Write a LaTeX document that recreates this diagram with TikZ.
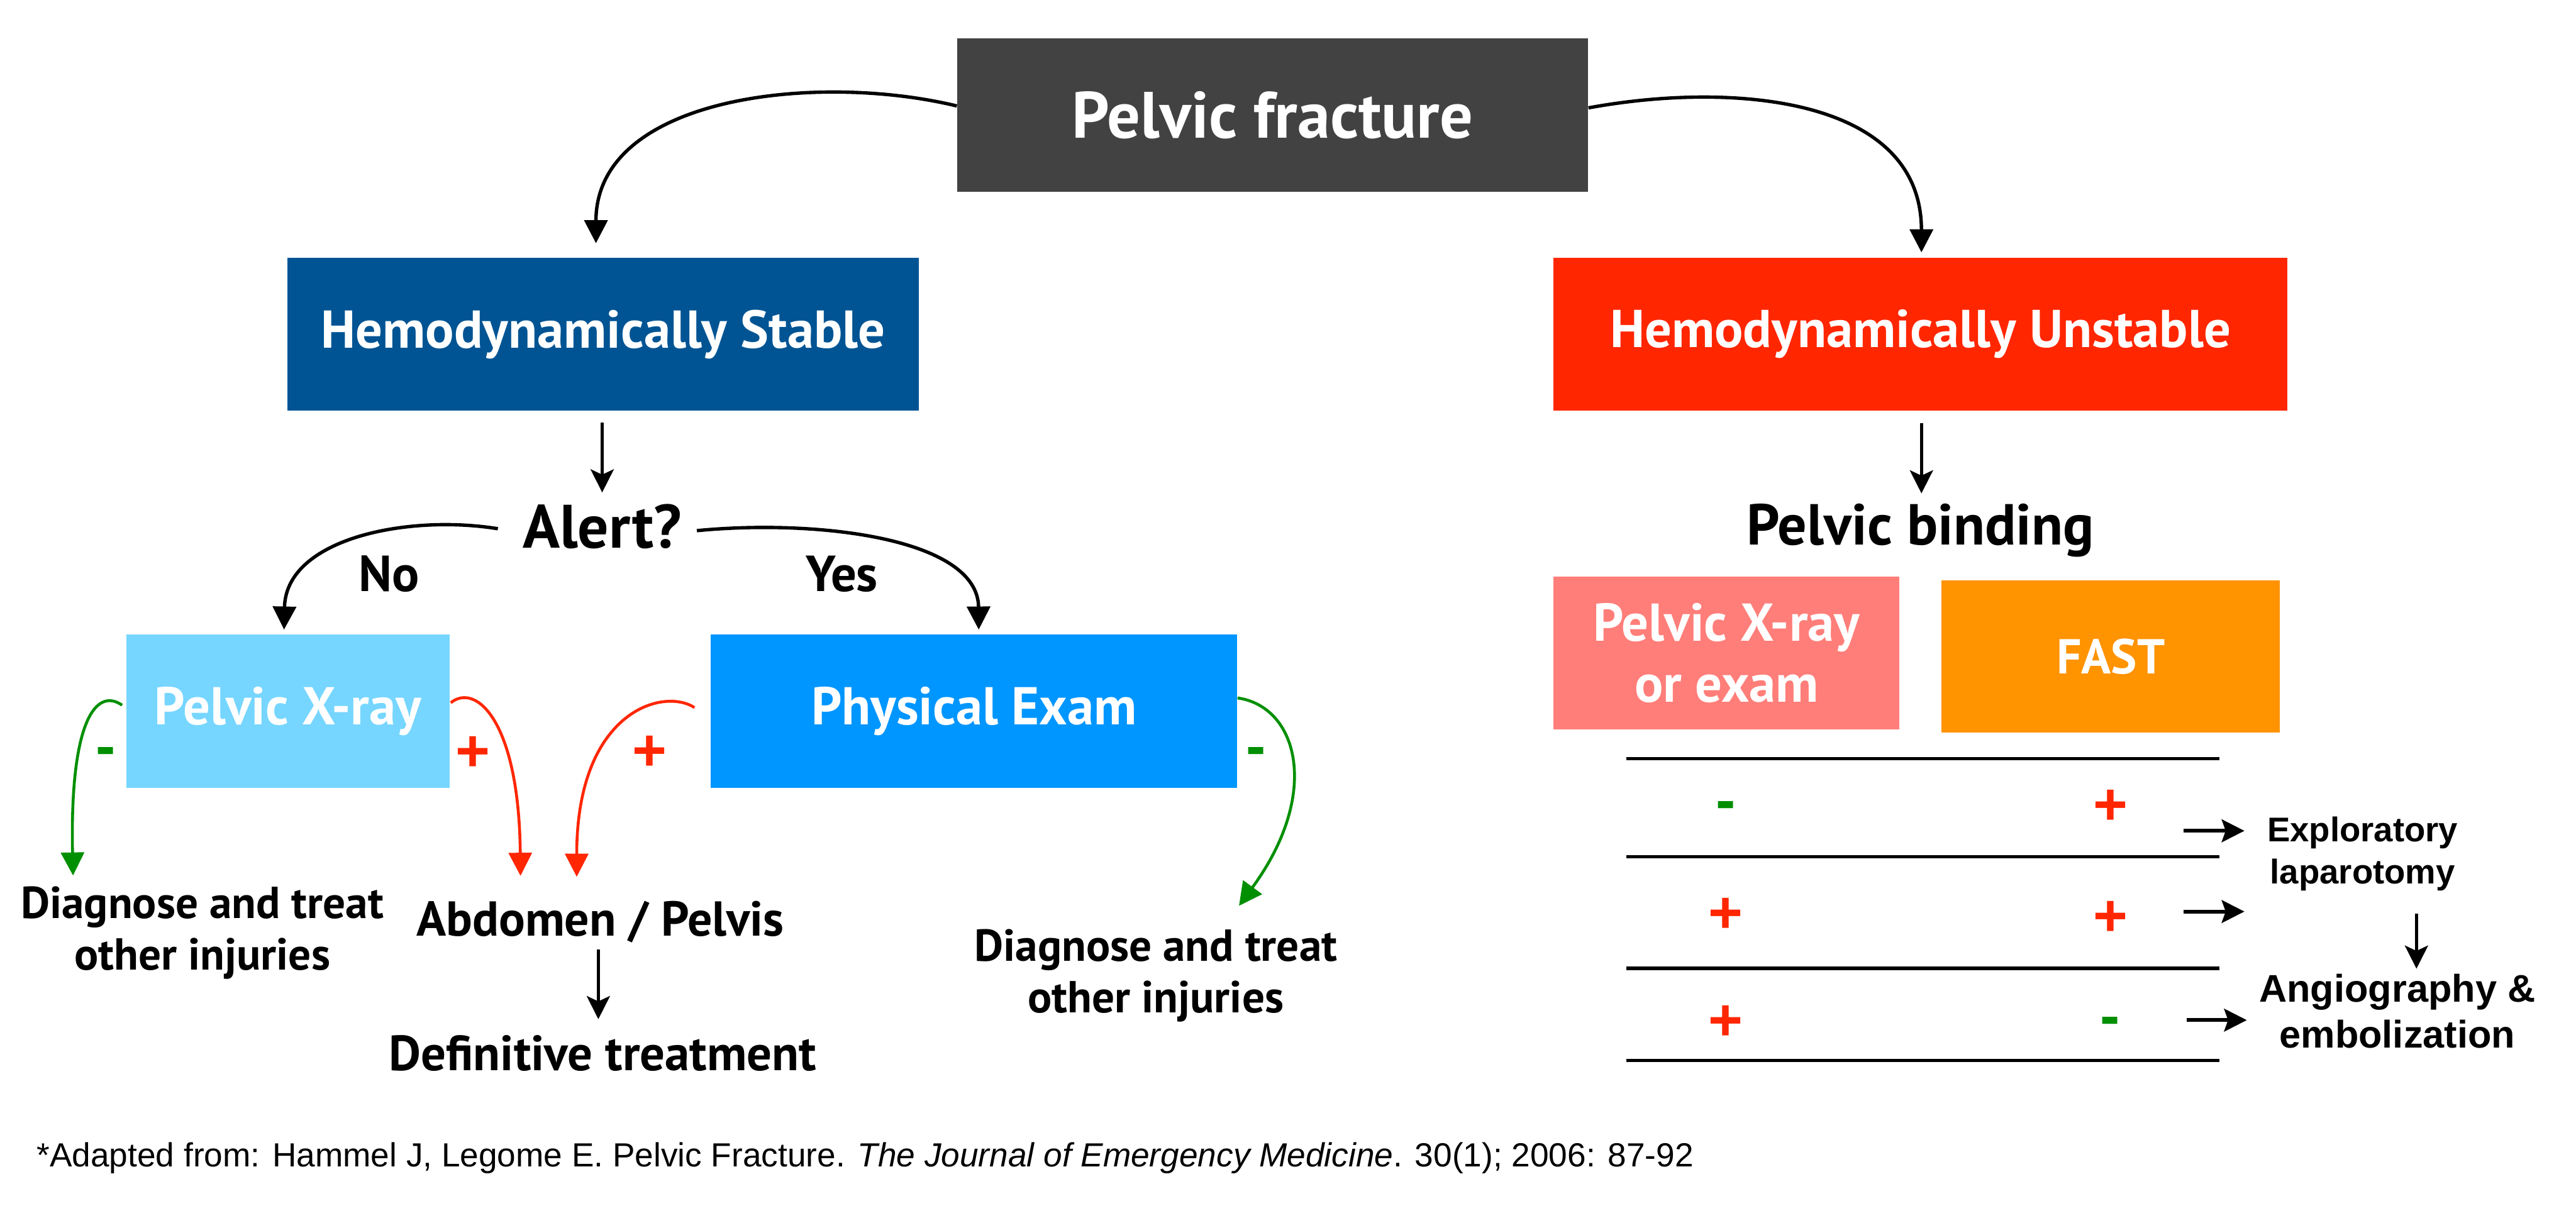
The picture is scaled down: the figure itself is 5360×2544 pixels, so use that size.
\documentclass[tikz,border=0pt]{standalone}
\usepackage{fontspec}
\setmainfont{PT Sans}
\newfontfamily\arialf{Liberation Sans}
\usetikzlibrary{arrows.meta,calc}
\definecolor{tungsten}{HTML}{424242}
\definecolor{ocean}{HTML}{005493}
\definecolor{maraschino}{HTML}{FF2600}
\definecolor{sky}{HTML}{76D6FF}
\definecolor{aqua}{HTML}{0096FF}
\definecolor{salmon}{HTML}{FF7E79}
\definecolor{tangerine}{HTML}{FF9300}
\definecolor{clover}{HTML}{008F00}
\newcommand\fsz[2]{\fontsize{#1pt}{#2pt}\selectfont}
\begin{document}
\begin{tikzpicture}[x=0.01cm, y=-0.01cm,
  box/.style={rectangle, inner sep=0pt, text=white, align=center},
  lbl/.style={inner sep=0pt, align=center},
  curvearrow/.style={line width=2pt, -{Triangle[length=4.8mm,width=4.8mm]}},
  gcurve/.style={line width=1.7pt, draw=clover, -{Triangle[length=4.8mm,width=4.8mm]}, clover},
  rcurve/.style={line width=1.7pt, draw=maraschino, -{Triangle[length=4.8mm,width=4.8mm]}, maraschino},
  downarrow/.style={line width=2pt, -{Stealth[length=4.8mm,width=4.8mm,inset=1.1mm]}},
  tablearrow/.style={line width=2.3pt, -{Stealth[length=4.7mm,width=4.7mm,inset=0.8mm]}},
  tblrule/.style={line width=2pt},
  pm/.style={inner sep=0pt, anchor=base, font=\arialf\bfseries\fsz{35}{40}},
]
\useasboundingbox (0,0) rectangle (5360,2544);
\fill[white] (0,0) rectangle (5360,2544);

% boxes
\node[box, fill=tungsten, minimum width=13.12cm, minimum height=3.19cm, font=\bfseries\fsz{38.8}{46}] (pf) at (2648,239.5) {Pelvic fracture};
\node[box, fill=ocean, minimum width=13.12cm, minimum height=3.19cm, font=\bfseries\fsz{31.5}{37}] (stable) at (1255,695.5) {Hemodynamically Stable};
\node[box, fill=maraschino, minimum width=15.26cm, minimum height=3.19cm, font=\bfseries\fsz{31.5}{37}] (unstable) at (3996,695.5) {Hemodynamically Unstable};
\node[box, fill=sky, minimum width=6.72cm, minimum height=3.19cm, font=\bfseries\fsz{31.5}{37}] (xray) at (599,1479.5) {Pelvic X-ray};
\node[box, fill=aqua, minimum width=10.95cm, minimum height=3.19cm, font=\bfseries\fsz{31.5}{37}] (exam) at (2026.5,1479.5) {Physical Exam};
\node[box, fill=salmon, minimum width=7.19cm, minimum height=3.18cm, font=\bfseries\fsz{31.5}{36}] (pxe) at (3592.5,1359) {Pelvic X-ray\\or exam};
\node[box, fill=tangerine, minimum width=7.04cm, minimum height=3.17cm, font=\bfseries\fsz{29}{35}] (fast) at (4392,1366.5) {FAST};

% labels
\node[lbl, anchor=base, font=\bfseries\fsz{36.3}{42}] (alert) at (1253,1140) {Alert?};
\node[lbl, anchor=base, font=\bfseries\fsz{30}{36}] (no) at (809,1231) {No};
\node[lbl, anchor=base, font=\bfseries\fsz{30}{36}] (yes) at (1752,1231) {Yes};
\node[lbl, anchor=base, font=\bfseries\fsz{34.2}{40}] (bind) at (3996,1134) {Pelvic binding};
\node[lbl, font=\bfseries\fsz{26.5}{30.4}] (diagL) at (421,1941) {Diagnose and treat\\other injuries};
\node[lbl, font=\bfseries\fsz{26.5}{30.4}] (diagR) at (2405,2030) {Diagnose and treat\\other injuries};
\node[lbl, anchor=base, font=\bfseries\fsz{29}{34}] (abd) at (1249,1948) {Abdomen / Pelvis};
\node[lbl, anchor=base, font=\bfseries\fsz{29.3}{34}] (defin) at (1254,2228) {Definitive treatment};
\node[lbl, font=\arialf\bfseries\fsz{20.3}{25}] (expl) at (4916,1777) {Exploratory\\laparotomy};
\node[lbl, font=\arialf\bfseries\fsz{22.8}{27.3}] (angio) at (4988,2104) {Angiography \&\\embolization};
\node[anchor=base west, inner sep=0pt, font=\arialf\fsz{19.8}{24}] (cite) at (76,2428) {*Adapted from: Hammel J, Legome E. Pelvic Fracture. \textit{The Journal of Emergency Medicine}. 30(1); 2006: 87-92};

% signs
\node[pm, text=clover] (s1) at (220,1595) {-};
\node[pm, text=maraschino] (s2) at (984,1605) {+};
\node[pm, text=maraschino] (s3) at (1352,1604) {+};
\node[pm, text=clover] (s4) at (2614,1595) {-};
\node[pm, text=clover] (t11) at (3591,1707) {-};
\node[pm, text=maraschino] (t12) at (4391,1716) {+};
\node[pm, text=maraschino] (t21) at (3591,1941) {+};
\node[pm, text=maraschino] (t22) at (4391,1948) {+};
\node[pm, text=maraschino] (t31) at (3591,2165) {+};
\node[pm, text=clover] (t32) at (4391,2156) {-};

% connectors
\draw[curvearrow] ($(pf.west)+(0,-19)$) .. controls (1700,150) and (1240,200) .. ($(stable.north)+(-15,-29)$);
\draw[curvearrow] ($(pf.east)+(0,-15)$) .. controls (3600,170) and (3998,200) .. ($(unstable.north)+(2,-10)$);
\draw[downarrow] ($(stable.south)+(-2,24)$) -- ($(stable.south)+(-2,169)$);
\draw[downarrow] ($(unstable.south)+(2,25)$) -- ($(unstable.south)+(2,171)$);
\draw[curvearrow] ($(alert.west)+(-51,5)$) .. controls (850,1070) and (595,1120) .. ($(xray.north)+(-8,-9)$);
\draw[curvearrow] ($(alert.east)+(31,9)$) .. controls (1700,1080) and (2035,1120) .. ($(exam.north)+(10,-9)$);
\draw[gcurve] ($(xray.west)+(-8,-12)$) .. controls (200,1430) and (145,1500) .. ($(diagL.north)+(-269,-22)$);
\draw[rcurve] ($(xray.east)+(2,-17)$) .. controls (990,1420) and (1080,1500) .. ($(abd.north)+(-166,-52)$);
\draw[rcurve] ($(exam.west)+(-33,-7)$) .. controls (1380,1430) and (1200,1480) .. ($(abd.north)+(-49,-50)$);
\draw[gcurve] ($(exam.east)+(0,-27)$) .. controls (2700,1470) and (2750,1650) .. ($(diagR.north)+(173,-48)$);
\draw[downarrow] ($(abd.base)+(-4,28)$) -- ($(abd.base)+(-4,173)$);
\draw[downarrow] ($(expl.south)+(112,46)$) -- ($(expl.south)+(112,161)$);

% table
\draw[tblrule] (3384,1579) -- (4618,1579);
\draw[tblrule] (3384,1783) -- (4618,1783);
\draw[tblrule] (3384,2015) -- (4618,2015);
\draw[tblrule] (3384,2207) -- (4618,2207);
\coordinate (t1a) at (4543,1729); \coordinate (t1b) at (4670,1729);
\coordinate (t2a) at (4543,1897); \coordinate (t2b) at (4670,1897);
\coordinate (t3a) at (4550,2123); \coordinate (t3b) at (4675,2123);
\draw[tablearrow] (t1a) -- (t1b);
\draw[tablearrow] (t2a) -- (t2b);
\draw[tablearrow] (t3a) -- (t3b);
\end{tikzpicture}
\end{document}
